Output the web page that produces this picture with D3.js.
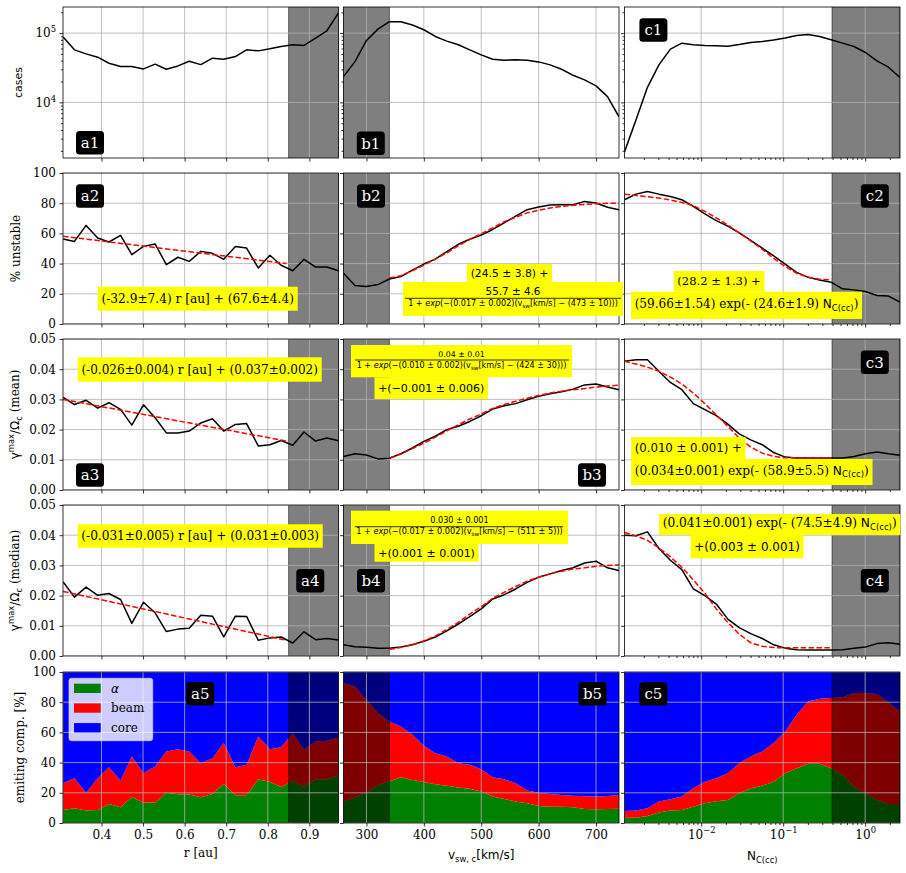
<!DOCTYPE html>
<html>
<head>
<meta charset="utf-8">
<script src="https://cdn.jsdelivr.net/npm/d3@7"></script>
<style>
  body { margin: 0; background: #fff; }
</style>
</head>
<body>
<svg id="fig" width="906" height="873"></svg>
<script>
// ---- data ----
const rAu = [0.308, 0.335, 0.363, 0.391, 0.418, 0.446, 0.473, 0.501, 0.529, 0.556, 0.584, 0.611, 0.639,
             0.667, 0.694, 0.722, 0.749, 0.777, 0.805, 0.832, 0.860, 0.887, 0.915, 0.942, 0.970];
const vSw = [260, 280, 300, 320, 340, 360, 380, 400, 420, 440, 460, 480, 500,
             520, 540, 560, 580, 600, 620, 640, 660, 680, 700, 720, 740];
const nCc = [0.00116, 0.0016, 0.00221, 0.00305, 0.00421, 0.00581, 0.00802, 0.01107, 0.01528, 0.0211, 0.0291, 0.0402, 0.0555,
             0.0766, 0.1057, 0.1459, 0.2014, 0.278, 0.384, 0.530, 0.731, 1.009, 1.393, 1.923, 2.655];

const casesR = [87500, 57300, 50100, 44900, 36700, 32900, 32900, 30400, 35600, 30100, 33600, 39300, 35100,
                43500, 42000, 45900, 57300, 55400, 59300, 64100, 67800, 66300, 84600, 108000, 195000];
const casesV = [23600, 38800, 78400, 114000, 146000, 146000, 130600, 111700, 89500, 76600, 67800, 57300, 48500,
                42000, 40600, 41100, 40600, 38400, 34800, 30100, 24600, 21100, 17300, 12100, 6200];
const casesN = [1930, 5550, 16500, 34800, 58600, 71600, 67800, 66300, 65500, 64800, 68500, 73200, 75700,
                79200, 84700, 92500, 95700, 89500, 80000, 71600, 64100, 52500, 39700, 32200, 23000];

const unstR = [56.3, 54.7, 65.3, 57.0, 54.3, 58.7, 45.9, 51.4, 53.0, 39.3, 44.2, 41.5, 48.1,
               46.8, 42.8, 51.4, 50.3, 37.1, 45.5, 38.9, 35.3, 42.8, 37.7, 37.7, 35.3];
const unstV = [33.6, 25.5, 24.8, 26.1, 29.8, 31.4, 35.7, 39.7, 43.0, 48.0, 52.8, 56.1, 58.9,
               62.6, 67.0, 71.4, 75.7, 77.5, 78.8, 79.0, 79.0, 81.2, 80.1, 77.3, 75.7];
const unstN = [82.3, 86.0, 87.8, 86.0, 84.5, 82.3, 77.9, 72.9, 68.5, 64.8, 60.4, 55.4, 50.2,
               45.1, 39.7, 34.2, 30.9, 29.2, 27.7, 23.3, 22.6, 21.5, 18.9, 18.5, 14.5];

const meanR = [0.0307, 0.0283, 0.0297, 0.0271, 0.0289, 0.0267, 0.0215, 0.0282, 0.0239, 0.0189, 0.0189, 0.0195, 0.0222,
               0.0236, 0.0195, 0.0217, 0.0220, 0.0146, 0.0150, 0.0164, 0.0148, 0.0192, 0.0162, 0.0172, 0.0163];
const meanV = [0.0111, 0.0120, 0.0116, 0.0103, 0.0105, 0.0120, 0.0139, 0.0161, 0.0178, 0.0200, 0.0211, 0.0227, 0.0246,
               0.0268, 0.0279, 0.0286, 0.0299, 0.0310, 0.0319, 0.0325, 0.0334, 0.0348, 0.0351, 0.0341, 0.0332];
const meanN = [0.0426, 0.0431, 0.0431, 0.0393, 0.0356, 0.0332, 0.0286, 0.0266, 0.0246, 0.0218, 0.0186, 0.0166, 0.0150,
               0.0124, 0.0109, 0.0106, 0.0106, 0.0106, 0.0106, 0.0106, 0.0111, 0.0120, 0.0126, 0.0120, 0.0115];

const medR = [0.0245, 0.0195, 0.0228, 0.0201, 0.0207, 0.0187, 0.0108, 0.0178, 0.0143, 0.0081, 0.0089, 0.0092, 0.0135,
              0.0132, 0.0063, 0.0132, 0.0131, 0.0052, 0.0060, 0.0063, 0.0043, 0.0080, 0.0054, 0.0058, 0.0053];
const medV = [0.0037, 0.0031, 0.0029, 0.0026, 0.0026, 0.0030, 0.0037, 0.0049, 0.0063, 0.0083, 0.0106, 0.0130, 0.0156,
              0.0189, 0.0203, 0.0222, 0.0244, 0.0261, 0.0272, 0.0283, 0.0292, 0.0308, 0.0314, 0.0292, 0.0283];
const medN = [0.0400, 0.0398, 0.0411, 0.0356, 0.0317, 0.0286, 0.0222, 0.0200, 0.0172, 0.0122, 0.0094, 0.0074, 0.0058,
              0.0037, 0.0026, 0.0021, 0.0020, 0.0020, 0.0020, 0.0021, 0.0026, 0.0030, 0.0041, 0.0044, 0.0039];

// fitted curves (red dashed)
const fitRx = [0.3075, 0.845];
const fitUnstR = [58.1, 40.0];
const fitMeanR = [0.0300, 0.0162];
const fitMedR = [0.0214, 0.0052];
const fitV = vSw.slice(4);
const fitUnstV = [30.5, 32.0, 35.3, 39.0, 43.0, 47.1, 51.7, 56.1, 59.8, 63.7, 67.7, 70.7, 73.6, 75.3, 76.8, 77.9, 78.6, 79.2, 79.7, 79.9, 79.9];
const fitMeanV = [0.0105, 0.0119, 0.0137, 0.0155, 0.0175, 0.0196, 0.0216, 0.0235, 0.0252, 0.0270, 0.0283, 0.0294, 0.0304,
                  0.0313, 0.0321, 0.0327, 0.0332, 0.0336, 0.0341, 0.0344, 0.0347];
const fitMedV = [0.0022, 0.0028, 0.0037, 0.0050, 0.0066, 0.0088, 0.0111, 0.0139, 0.0163, 0.0191, 0.0211, 0.0230, 0.0248,
                 0.0261, 0.0272, 0.0281, 0.0288, 0.0292, 0.0297, 0.0300, 0.0301];
const fitN = nCc.slice(0, 19);
const fitUnstN = [86.0, 85.1, 84.3, 83.4, 82.1, 80.5, 78.4, 74.6, 70.3, 65.5, 60.4, 55.0, 49.5, 43.4, 38.1, 33.6, 30.9, 29.6, 29.2];
const fitMeanN = [0.0426, 0.0417, 0.0407, 0.0393, 0.0374, 0.0351, 0.0321, 0.0286, 0.0249, 0.0211, 0.0172, 0.0142, 0.0122,
                  0.0111, 0.0107, 0.0106, 0.0106, 0.0106, 0.0106];
const fitMedN = [0.0409, 0.0398, 0.0383, 0.0358, 0.0328, 0.0294, 0.0252, 0.0208, 0.0156, 0.0111, 0.0072, 0.0044, 0.0032,
                 0.0028, 0.0027, 0.0027, 0.0027, 0.0027, 0.0027];

// emitting components [%]
const alphaR = [8.6, 9.7, 8.2, 8.6, 12.6, 10.4, 17.3, 13.5, 13.5, 20.1, 19.0, 18.8, 17.0, 19.2, 25.9, 18.4, 18.4, 29.0, 27.4, 23.9, 27.9, 24.1, 29.0, 29.0, 31.4];
const beamR = [17.7, 19.9, 11.9, 21.0, 24.3, 17.7, 26.7, 19.5, 23.9, 27.2, 29.9, 28.5, 22.6, 23.7, 27.0, 18.5, 20.1, 28.3, 21.5, 26.3, 31.6, 24.8, 25.0, 25.4, 25.2];
const coreR = [73.7, 70.4, 79.9, 70.4, 63.1, 71.9, 56.0, 67.0, 62.6, 52.7, 51.1, 52.7, 60.4, 57.1, 47.1, 63.1, 61.5, 42.7, 51.1, 49.8, 40.5, 51.1, 46.0, 45.6, 43.4];
const alphaV = [14.2, 17.1, 20.1, 25.2, 27.7, 30.3, 28.5, 27.2, 25.7, 24.6, 23.5, 22.6, 20.8, 17.5, 15.9, 14.2, 13.1, 11.3, 10.8, 10.8, 10.4, 9.3, 9.1, 9.3, 9.5];
const beamV = [78.5, 73.4, 61.5, 47.6, 39.6, 33.6, 29.9, 23.9, 20.5, 19.4, 16.1, 15.9, 14.8, 12.8, 13.1, 12.1, 8.4, 8.8, 8.4, 7.8, 7.7, 8.4, 8.4, 8.6, 9.1];
const coreV = [7.3, 9.5, 18.4, 27.2, 32.7, 36.1, 41.6, 48.9, 53.8, 56.0, 60.4, 61.5, 64.4, 69.7, 71.0, 73.7, 78.5, 79.9, 80.8, 81.4, 81.9, 82.3, 82.5, 82.1, 81.4];
const alphaN = [3.5, 3.5, 4.6, 6.9, 8.2, 8.6, 10.8, 13.1, 14.4, 15.3, 19.7, 23.0, 24.6, 27.4, 33.0, 36.3, 39.2, 39.2, 36.3, 31.9, 24.1, 19.7, 15.3, 12.6, 12.6];
const beamN = [4.5, 4.7, 5.1, 7.3, 7.5, 8.9, 12.2, 14.3, 15.2, 17.7, 19.9, 21.0, 22.7, 25.5, 27.6, 35.4, 41.3, 43.1, 46.4, 51.3, 62.0, 66.4, 70.1, 67.3, 61.3];
const coreN = [92.0, 91.8, 90.3, 85.8, 84.3, 82.5, 77.0, 72.6, 70.4, 67.0, 60.4, 56.0, 52.7, 47.1, 39.4, 28.3, 19.5, 17.7, 17.3, 16.8, 13.9, 13.9, 14.6, 20.1, 26.1];

// excluded ranges (grey bands)
const shadeR = [0.85, 0.97];
const shadeV = [260, 340];
const shadeN = [0.394, 2.66];

// ticks
const ticksR = [0.4, 0.5, 0.6, 0.7, 0.8, 0.9];
const ticksV = [300, 400, 500, 600, 700];
const ticksN = [0.01, 0.1, 1];
const minorN = [2e-3, 3e-3, 4e-3, 5e-3, 6e-3, 7e-3, 8e-3, 9e-3, 2e-2, 3e-2, 4e-2, 5e-2, 6e-2, 7e-2, 8e-2, 9e-2,
                0.2, 0.3, 0.4, 0.5, 0.6, 0.7, 0.8, 0.9, 2];
const ticksCases = [1e4, 1e5];
const minorCases = [2000, 3000, 4000, 5000, 6000, 7000, 8000, 9000, 20000, 30000, 40000, 50000, 60000, 70000, 80000, 90000, 200000];
const ticksPct = [0, 20, 40, 60, 80, 100];
const ticksGam = [0, 0.01, 0.02, 0.03, 0.04, 0.05];

// ---- layout ----
const SERIF = '"DejaVu Serif", serif';
const SANS = '"DejaVu Sans", sans-serif';
const colX = [63, 343.5, 624.5], colW = 275.5;
const rowY = [7, 173, 339, 505, 672], rowH = 151;

const svg = d3.select('#fig');
svg.append('rect').attr('width', 906).attr('height', 873).attr('fill', '#fff');

const xScales = [
  d3.scaleLinear().domain([0.3075, 0.97]).range([0, colW]),
  d3.scaleLinear().domain([260, 740]).range([0, colW]),
  d3.scaleLog().domain([0.00116, 2.66]).range([0, colW])
];
const yScales = [
  d3.scaleLog().domain([1575, 238000]).range([rowH, 0]),
  d3.scaleLinear().domain([0, 100]).range([rowH, 0]),
  d3.scaleLinear().domain([0, 0.05]).range([rowH, 0]),
  d3.scaleLinear().domain([0, 0.05]).range([rowH, 0]),
  d3.scaleLinear().domain([0, 100]).range([rowH, 0])
];
const xTicks = [ticksR, ticksV, ticksN];
const yTicks = [ticksCases, ticksPct, ticksGam, ticksGam, ticksPct];
const xs = [rAu, vSw, nCc];
const shades = [shadeR, shadeV, shadeN];

const rows = [
  [casesR, casesV, casesN],
  [unstR, unstV, unstN],
  [meanR, meanV, meanN],
  [medR, medV, medN]
];
const fits = [
  null,
  [[fitRx, fitUnstR], [fitV, fitUnstV], [fitN, fitUnstN]],
  [[fitRx, fitMeanR], [fitV, fitMeanV], [fitN, fitMeanN]],
  [[fitRx, fitMedR], [fitV, fitMedV], [fitN, fitMedN]]
];
const stacks = [[alphaR, beamR, coreR], [alphaV, beamV, coreV], [alphaN, beamN, coreN]];

// rich text: segments {t, f:'sans', it, sub, sup}
function rich(t, segs) {
  let cur = 0;
  segs.forEach(s => {
    if (typeof s === 'string') s = { t: s };
    const ts = t.append('tspan').text(s.t);
    ts.attr('font-family', s.f === 'sans' ? SANS : (s.f === 'serif' ? SERIF : null));
    if (s.it) ts.attr('font-style', 'italic');
    const target = s.sub ? 0.22 : (s.sup ? -0.42 : 0);
    const size = (s.sub || s.sup) ? 0.7 : 1;
    if (size !== 1) ts.attr('font-size', size + 'em');
    if (target !== cur) ts.attr('dy', ((target - cur) / size).toFixed(3) + 'em');
    cur = target;
  });
  return t;
}

function supLabel(sel) {
  sel.selectAll('.tick text').each(function (d) {
    const t = d3.select(this).text(null);
    const e = Math.round(Math.log10(d));
    rich(t, ['10', { t: (e < 0 ? '\u2212' + (-e) : '' + e), sup: true }]);
  });
}

const line = (x, y) => d3.line().x(d => x(d[0])).y(d => y(d[1]));

for (let r = 0; r < 5; r++) {
  for (let c = 0; c < 3; c++) {
    const x = xScales[c], y = yScales[r];
    const g = svg.append('g').attr('transform', `translate(${colX[c]},${rowY[r]})`);
    const id = `clip${r}${c}`;
    g.append('clipPath').attr('id', id).append('rect').attr('width', colW).attr('height', rowH);
    const plot = g.append('g').attr('clip-path', `url(#${id})`);

    if (r === 4) {
      const data = xs[c].map((v, i) => ({ x: v, alpha: stacks[c][0][i], beam: stacks[c][1][i], core: stacks[c][2][i] }));
      const series = d3.stack().keys(['alpha', 'beam', 'core'])(data);
      const area = d3.area().x(d => x(d.data.x)).y0(d => y(d[0])).y1(d => y(d[1]));
      plot.selectAll('path.stk').data(series).join('path')
        .attr('fill', (d, i) => ['#008000', '#ff0000', '#0000ff'][i])
        .attr('d', area);
    }

    // excluded band
    const sx0 = x(shades[c][0]), sx1 = x(shades[c][1]);
    plot.append('rect')
      .attr('x', sx0).attr('y', -2).attr('width', sx1 - sx0).attr('height', rowH + 4)
      .attr('fill', '#000').attr('fill-opacity', 0.5)
      .attr('stroke', '#000').attr('stroke-opacity', 0.5).attr('stroke-width', 1);

    // grid
    plot.selectAll('line.gx').data(xTicks[c]).join('line')
      .attr('x1', d => x(d)).attr('x2', d => x(d)).attr('y1', 0).attr('y2', rowH)
      .attr('stroke', '#b0b0b0').attr('stroke-width', 0.8);
    plot.selectAll('line.gy').data(yTicks[r]).join('line')
      .attr('x1', 0).attr('x2', colW).attr('y1', d => y(d)).attr('y2', d => y(d))
      .attr('stroke', '#b0b0b0').attr('stroke-width', 0.8);

    if (r < 4) {
      plot.append('path').datum(d3.zip(xs[c], rows[r][c]))
        .attr('fill', 'none').attr('stroke', '#000').attr('stroke-width', 1.5)
        .attr('stroke-linejoin', 'round')
        .attr('d', line(x, y));
      if (fits[r]) {
        const f = fits[r][c];
        plot.append('path').datum(d3.zip(f[0], f[1]))
          .attr('fill', 'none').attr('stroke', '#ff0000').attr('stroke-width', 1.5)
          .attr('stroke-dasharray', '5.5,2.4')
          .attr('d', line(x, y));
      }
    }

    // x axis
    const xa = d3.axisBottom(x).tickValues(xTicks[c]).tickSize(3.5).tickSizeOuter(0).tickPadding(3.5);
    if (r === 4 && c === 0) xa.tickFormat(d3.format('.1f'));
    else if (r === 4 && c === 1) xa.tickFormat(d3.format('d'));
    else xa.tickFormat(() => '');
    const gx = g.append('g').attr('transform', `translate(0,${rowH})`).call(xa);
    if (r === 4 && c === 2) supLabel(gx);
    if (c === 2) {
      g.append('g').attr('transform', `translate(0,${rowH})`)
        .call(d3.axisBottom(x).tickValues(minorN).tickSize(2).tickSizeOuter(0).tickFormat(() => ''))
        .select('.domain').remove();
    }

    // y axis
    const ya = d3.axisLeft(y).tickValues(yTicks[r]).tickSize(3.5).tickSizeOuter(0).tickPadding(3.5);
    if (c === 0 && r === 0) ya.tickFormat(() => '');
    else if (c === 0 && (r === 2 || r === 3)) ya.tickFormat(d3.format('.2f'));
    else if (c === 0) ya.tickFormat(d3.format('d'));
    else ya.tickFormat(() => '');
    const gy = g.append('g').call(ya);
    if (c === 0 && r === 0) supLabel(gy);
    if (r === 0) {
      g.append('g').call(d3.axisLeft(y).tickValues(minorCases).tickSize(2).tickSizeOuter(0).tickFormat(() => ''))
        .select('.domain').remove();
    }

    [gx, gy].forEach(a => {
      a.attr('font-family', SERIF).attr('font-size', 12);
      a.select('.domain').remove();
      a.selectAll('.tick text').attr('fill', '#000');
    });
    g.selectAll('.tick line').attr('stroke-width', 0.8);

    g.append('rect').attr('width', colW).attr('height', rowH)
      .attr('fill', 'none').attr('stroke', '#000').attr('stroke-width', 0.8);
  }
}

// ---- axis labels ----
function yLabel(xc, yc, segs, size, fam) {
  const t = svg.append('text')
    .attr('transform', `translate(${xc},${yc}) rotate(-90)`)
    .attr('text-anchor', 'middle').attr('dy', '0.35em')
    .attr('font-size', size).attr('font-family', fam || SERIF);
  rich(t, segs);
}
const rowMid = r => rowY[r] + rowH / 2;
yLabel(18, rowMid(0), ['cases'], 11, SANS);
yLabel(16, rowMid(1), ['% unstable'], 12);
yLabel(15, rowMid(2), [{ t: '\u03b3', f: 'sans' }, { t: 'max', f: 'sans', sup: true }, { t: '/\u03a9', f: 'sans' }, { t: 'c', f: 'sans', sub: true }, ' (mean)'], 12);
yLabel(15, rowMid(3), [{ t: '\u03b3', f: 'sans' }, { t: 'max', f: 'sans', sup: true }, { t: '/\u03a9', f: 'sans' }, { t: 'c', f: 'sans', sub: true }, ' (median)'], 12);
yLabel(20, rowMid(4), ['emiting comp. [%]'], 12);

function xLabel(xc, yc, segs, fam) {
  const t = svg.append('text').attr('x', xc).attr('y', yc)
    .attr('text-anchor', 'middle').attr('dy', '0.35em')
    .attr('font-size', 12).attr('font-family', fam || SERIF);
  rich(t, segs);
}
xLabel(colX[0] + colW / 2, 853, ['r [au]']);
xLabel(colX[1] + colW / 2, 855, ['v', { t: 'sw, c', sub: true }, '[km/s]'], SANS);
xLabel(colX[2] + colW / 2, 856, ['N', { t: 'C(cc)', sub: true }], SANS);

// ---- legend (a5) ----
const leg = svg.append('g');
leg.append('rect').attr('x', 69).attr('y', 678.3).attr('width', 83.7).attr('height', 62.4).attr('rx', 2.5)
  .attr('fill', '#fff').attr('fill-opacity', 0.8).attr('stroke', '#cccccc').attr('stroke-opacity', 0.8);
const legItems = [
  { c: '#008000', segs: [{ t: '\u03b1', f: 'sans', it: true }] },
  { c: '#ff0000', segs: ['beam'] },
  { c: '#0000ff', segs: ['core'] }
];
legItems.forEach((d, i) => {
  const yc = 688.3 + i * 19.7;
  leg.append('rect').attr('x', 74).attr('y', yc - 4.6).attr('width', 26.7).attr('height', 9.3).attr('fill', d.c);
  rich(leg.append('text').attr('x', 111).attr('y', yc).attr('dy', '0.35em')
    .attr('font-size', 12).attr('font-family', SERIF), d.segs);
});

// ---- yellow annotation boxes ----
function fitWidth(t, w) {
  const len = t.node().getComputedTextLength();
  t.attr('font-size', 12 * w / len);
}
function annot(box, segs, fam, yOff) {
  const [x0, y0, x1, y1] = box;
  svg.append('rect').attr('x', x0).attr('y', y0).attr('width', x1 - x0).attr('height', y1 - y0).attr('fill', '#ffff00');
  const t = svg.append('text').attr('x', (x0 + x1) / 2).attr('y', (y0 + y1) / 2 + (yOff || 0))
    .attr('text-anchor', 'middle').attr('dy', '0.35em').attr('font-size', 12).attr('font-family', fam || SERIF);
  rich(t, segs);
  fitWidth(t, x1 - x0 - 7.2);
}
function fracAnnot(box, num, den, yNum, yLine, yDen, lineX, numW, denW) {
  const [x0, y0, x1, y1] = box, xc = (x0 + x1) / 2;
  svg.append('rect').attr('x', x0).attr('y', y0).attr('width', x1 - x0).attr('height', y1 - y0).attr('fill', '#ffff00');
  const tn = svg.append('text').attr('x', xc).attr('y', yNum).attr('text-anchor', 'middle').attr('dy', '0.35em')
    .attr('font-size', 12).attr('font-family', SANS).text(num);
  fitWidth(tn, numW);
  svg.append('line').attr('x1', lineX[0]).attr('x2', lineX[1]).attr('y1', yLine).attr('y2', yLine)
    .attr('stroke', '#000').attr('stroke-width', 0.8);
  const td = svg.append('text').attr('x', xc).attr('y', yDen).attr('text-anchor', 'middle').attr('dy', '0.35em')
    .attr('font-size', 12).attr('font-family', SANS);
  rich(td, den);
  fitWidth(td, denW);
}
const NCC = [{ t: 'N', f: 'sans' }, { t: 'C(cc)', f: 'sans', sub: true }];

annot([97.7, 286.7, 297.7, 310.7], ['(-32.9\u00b17.4) r [au] + (67.6\u00b14.4)']);
annot([77.7, 357.3, 321.7, 381.7], ['(-0.026\u00b10.004) r [au] + (0.037\u00b10.002)']);
annot([77.7, 524.3, 322.7, 547.7], ['(-0.031\u00b10.005) r [au] + (0.031\u00b10.003)']);

annot([467, 264, 552, 282], ['(24.5 \u00b1 3.8) +'], SANS);
fracAnnot([403, 282, 623, 316], '55.7 \u00b1 4.6',
  ['1 + ', { t: 'exp', it: true }, '(\u2212(0.017 \u00b1 0.002)(v', { t: 'sw', sub: true }, '[km/s] \u2212 (473 \u00b1 10)))'],
  291.7, 298.3, 303.5, [405, 621], 55, 210);

annot([673.7, 271, 764.4, 291.7], ['(28.2 \u00b1 1.3) +']);
annot([631, 291.7, 862, 319], ['(59.66\u00b11.54) exp(- (24.6\u00b11.9) ', ...NCC, ')'], SERIF, -1.5);

fracAnnot([351, 345, 572, 377.3], '0.04 \u00b1 0.01',
  ['1 + ', { t: 'exp', it: true }, '(\u2212(0.010 \u00b1 0.002)(v', { t: 'sw', sub: true }, '[km/s] \u2212 (424 \u00b1 30)))'],
  354, 360, 365.5, [355, 569], 46.4, 210);
annot([374.5, 377.3, 488, 399], ['+(\u22120.001 \u00b1 0.006)'], SANS);

annot([631, 437, 745.5, 459], ['(0.010 \u00b1 0.001) +'], SANS);
annot([631, 459, 872.5, 485], ['(0.034\u00b10.001) exp(- (58.9\u00b15.5) ', ...NCC, ')'], SERIF, -1.5);

fracAnnot([351, 510.7, 568, 544], '0.030 \u00b1 0.001',
  ['1 + ', { t: 'exp', it: true }, '(\u2212(0.017 \u00b1 0.002)(v', { t: 'sw', sub: true }, '[km/s] \u2212 (511 \u00b1 5)))'],
  519.7, 526.7, 531.5, [355, 563], 58.4, 206.7);
annot([374.5, 544, 478.6, 561.7], ['+(0.001 \u00b1 0.001)'], SANS);

annot([659, 514, 900.4, 535], ['(0.041\u00b10.001) exp(- (74.5\u00b14.9) ', ...NCC, ')'], SERIF, -1.5);
annot([690.7, 535, 803.5, 558.3], ['+(0.003 \u00b1 0.001)'], SANS);

// ---- panel tags ----
const tags = [
  ['a1', 90, 142.7], ['b1', 370.8, 143.3], ['c1', 653.4, 30],
  ['a2', 90, 196], ['b2', 371, 196], ['c2', 874.8, 196],
  ['a3', 90, 475], ['b3', 592, 475], ['c3', 874.8, 362.3],
  ['a4', 310.3, 580.7], ['b4', 371, 580.7], ['c4', 874.8, 580.7],
  ['a5', 200.3, 693.8], ['b5', 592.5, 693.8], ['c5', 653.4, 693.8]
];
tags.forEach(([s, xc, yc]) => {
  svg.append('rect').attr('x', xc - 14).attr('y', yc - 11.7).attr('width', 28).attr('height', 23.4).attr('rx', 3.5)
    .attr('fill', '#000');
  svg.append('text').attr('x', xc).attr('y', yc).attr('dy', '0.35em').attr('text-anchor', 'middle')
    .attr('font-size', 15).attr('font-family', SERIF).attr('fill', '#fff').text(s);
});
</script>
</body>
</html>
